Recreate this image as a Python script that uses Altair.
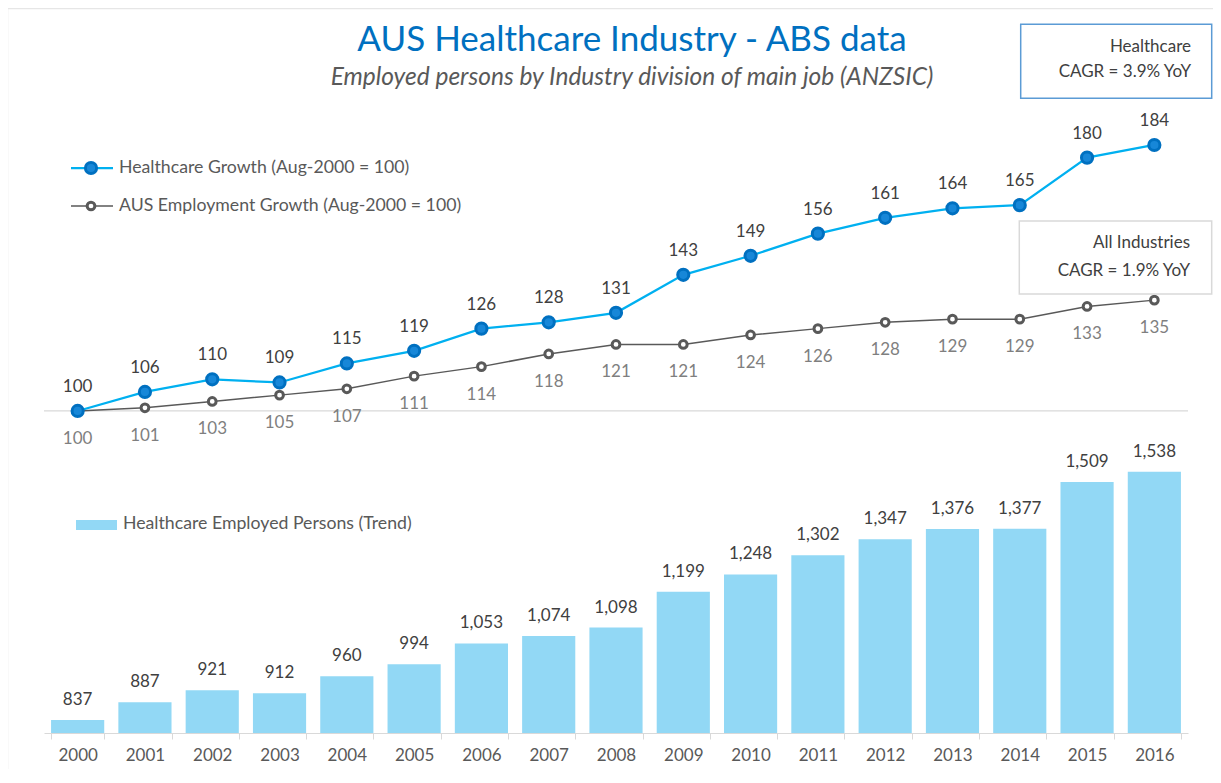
import altair as alt
import pandas as pd

years = [str(y) for y in range(2000, 2017)]
healthcare_index = [100, 106, 110, 109, 115, 119, 126, 128, 131, 143, 149, 156, 161, 164, 165, 180, 184]
aus_index = [100, 101, 103, 105, 107, 111, 114, 118, 121, 121, 124, 126, 128, 129, 129, 133, 135]
employed = [837, 887, 921, 912, 960, 994, 1053, 1074, 1098, 1199, 1248, 1302, 1347, 1376, 1377, 1509, 1538]

df = pd.DataFrame({"year": years, "hc": healthcare_index, "aus": aus_index, "emp": employed})
one = pd.DataFrame({"k": [0]})
base_line = pd.DataFrame({"v": [100]})

W, H = 1144, 633
FONT = "Lato"
BLUE_LINE = "#00B0F0"
BLUE_DARK = "#0070C0"
GRAY = "#595959"
BAR = "#92d8f5"

x_enc = alt.X(
    "year:O",
    scale=alt.Scale(paddingInner=0.21, paddingOuter=0.105),
    axis=alt.Axis(title=None, labelAngle=0, labelFontSize=17, labelColor="#595959",
                  labelFont=FONT, domainColor="#d9d9d9", tickColor="#d9d9d9",
                  tickBand="extent", tickSize=6, labelPadding=8, grid=False),
)
idx_scale = alt.Scale(domain=[-1.7, 198.2], nice=False, zero=False)
emp_scale = alt.Scale(domain=[800, 2588], nice=False, zero=False)

# faint chart-area border
frame = alt.Chart(one).mark_rect(fillOpacity=0, stroke="#e6e6e6", strokeWidth=1.5).encode(
    x=alt.value(-36.5), x2=alt.value(1250), y=alt.value(-91.5), y2=alt.value(720))

rule100 = alt.Chart(base_line).mark_rule(color="#d9d9d9", strokeWidth=1.2).encode(
    y=alt.Y("v:Q", scale=idx_scale, axis=None))

bars = alt.Chart(df).mark_bar(color=BAR).encode(
    x=x_enc, y=alt.Y("emp:Q", scale=emp_scale, axis=None), y2=alt.datum(800))
bar_lab = alt.Chart(df).mark_text(dy=-20, fontSize=17, color="#404040", font=FONT).encode(
    x=x_enc, y=alt.Y("emp:Q", scale=emp_scale, axis=None), text=alt.Text("emp:Q", format=","))

aus_line = alt.Chart(df).mark_line(color=GRAY, strokeWidth=1.5).encode(
    x=x_enc, y=alt.Y("aus:Q", scale=idx_scale, axis=None))
aus_pts = alt.Chart(df).mark_point(shape="circle", filled=True, fill="white", stroke=GRAY,
                                   strokeWidth=3, size=60, opacity=1).encode(
    x=x_enc, y=alt.Y("aus:Q", scale=idx_scale, axis=None))
aus_lab = alt.Chart(df).mark_text(dy=28, fontSize=17, color="#7f7f7f", font=FONT).encode(
    x=x_enc, y=alt.Y("aus:Q", scale=idx_scale, axis=None), text="aus:Q")

hc_line = alt.Chart(df).mark_line(color=BLUE_LINE, strokeWidth=2.25).encode(
    x=x_enc, y=alt.Y("hc:Q", scale=idx_scale, axis=None))
hc_pts = alt.Chart(df).mark_point(shape="circle", filled=True, fill="#1787d8", stroke=BLUE_DARK,
                                  strokeWidth=3, size=125, opacity=1).encode(
    x=x_enc, y=alt.Y("hc:Q", scale=idx_scale, axis=None))
hc_lab = alt.Chart(df).mark_text(dy=-24, fontSize=17, color="#404040", font=FONT).encode(
    x=x_enc, y=alt.Y("hc:Q", scale=idx_scale, axis=None), text="hc:Q")

# legend entries
leg_txt = dict(align="left", baseline="middle", fontSize=17.7, color="#595959", font=FONT)
leg1_rule = alt.Chart(one).mark_rule(color=BLUE_LINE, strokeWidth=2.25).encode(
    x=alt.value(27), x2=alt.value(69), y=alt.value(68))
leg1_pt = alt.Chart(one).mark_point(shape="circle", filled=True, fill="#1787d8", stroke=BLUE_DARK,
                                    strokeWidth=3, size=125, opacity=1).encode(
    x=alt.value(47), y=alt.value(68))
leg1_t = alt.Chart(one).mark_text(**leg_txt).encode(
    x=alt.value(75), y=alt.value(68), text=alt.value("Healthcare Growth (Aug-2000 = 100)"))
leg2_rule = alt.Chart(one).mark_rule(color=GRAY, strokeWidth=1.5).encode(
    x=alt.value(27), x2=alt.value(69), y=alt.value(106))
leg2_pt = alt.Chart(one).mark_point(shape="circle", filled=True, fill="white", stroke=GRAY,
                                    strokeWidth=3, size=60, opacity=1).encode(
    x=alt.value(47), y=alt.value(106))
leg2_t = alt.Chart(one).mark_text(**leg_txt).encode(
    x=alt.value(75), y=alt.value(106), text=alt.value("AUS Employment Growth (Aug-2000 = 100)"))
leg3_rect = alt.Chart(one).mark_rect(color=BAR).encode(
    x=alt.value(32), x2=alt.value(73), y=alt.value(420), y2=alt.value(430))
leg3_t = alt.Chart(one).mark_text(**leg_txt).encode(
    x=alt.value(79), y=alt.value(424), text=alt.value("Healthcare Employed Persons (Trend)"))

# CAGR boxes
box_txt = dict(align="right", baseline="middle", fontSize=17, color="#404040", font=FONT)
box1 = alt.Chart(one).mark_rect(fill="white", stroke="#5b9bd5", strokeWidth=1.5).encode(
    x=alt.value(976.7), x2=alt.value(1167.7), y=alt.value(-75.7), y2=alt.value(-1.7))
box1_t1 = alt.Chart(one).mark_text(**box_txt).encode(
    x=alt.value(1147), y=alt.value(-52.7), text=alt.value("Healthcare"))
box1_t2 = alt.Chart(one).mark_text(**box_txt).encode(
    x=alt.value(1147), y=alt.value(-27.7), text=alt.value("CAGR = 3.9% YoY"))
box2 = alt.Chart(one).mark_rect(fill="white", stroke="#d9d9d9", strokeWidth=1.5).encode(
    x=alt.value(975.3), x2=alt.value(1167.7), y=alt.value(121), y2=alt.value(194))
box2_t1 = alt.Chart(one).mark_text(**box_txt).encode(
    x=alt.value(1146), y=alt.value(143.3), text=alt.value("All Industries"))
box2_t2 = alt.Chart(one).mark_text(**box_txt).encode(
    x=alt.value(1146), y=alt.value(170.7), text=alt.value("CAGR = 1.9% YoY"))

chart = alt.layer(
    frame, rule100, bars, bar_lab, aus_line, aus_pts, aus_lab, hc_line, hc_pts, hc_lab,
    leg1_rule, leg1_pt, leg1_t, leg2_rule, leg2_pt, leg2_t, leg3_rect, leg3_t,
    box1, box1_t1, box1_t2, box2, box2_t1, box2_t2,
).resolve_scale(y="independent").properties(
    width=W, height=H,
    padding={"left": 36, "top": 92, "right": 25, "bottom": 36},
    autosize=alt.AutoSizeParams(type="none"),
    title=alt.TitleParams(
        text="AUS Healthcare Industry - ABS data",
        subtitle="Employed persons by Industry division of main job (ANZSIC)",
        font=FONT, fontSize=35, fontWeight="normal", color=BLUE_DARK,
        subtitleFont=FONT, subtitleFontSize=24.5, subtitleFontStyle="italic",
        subtitleColor="#595959", subtitlePadding=8,
        anchor="middle", dx=16, dy=92, offset=10,
    ),
).configure(background="white", view=alt.ViewConfig(stroke=None))

chart.save("out.html", embed_options={"renderer": "svg", "actions": False})
